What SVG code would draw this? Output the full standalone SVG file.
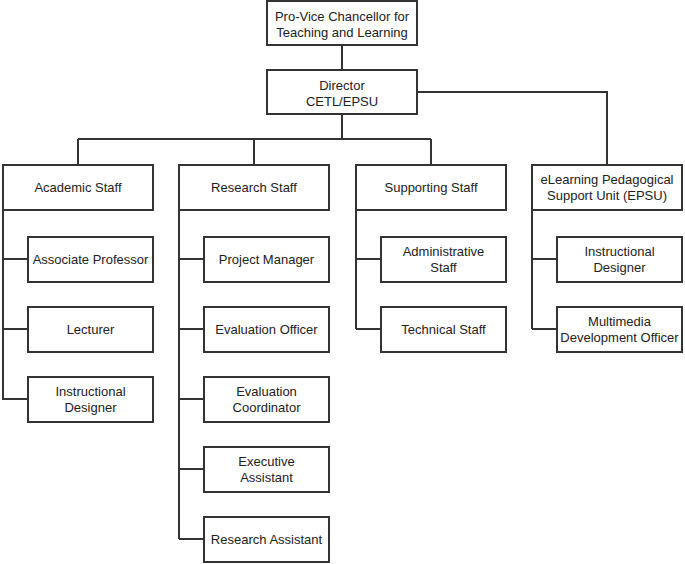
<svg xmlns="http://www.w3.org/2000/svg" width="685" height="564" viewBox="0 0 685 564">
<style>
rect{fill:#fff;stroke:#333;stroke-width:2}
text{font-family:"Liberation Sans",Arial,sans-serif;font-size:13px;fill:#222;text-anchor:middle}
.c path{fill:none;stroke:#333;stroke-width:2}
</style>
<rect x="0" y="0" width="685" height="564" style="stroke:none"/>
<g class="c" id="connectors">
<path d="M342 45V70M342 114V139M78 139H431M78 139V165M254 139V165M431 139V165M417 92H607V165"/>
<path d="M3 210V400M3 259H28M3 329H28M3 399H28"/>
<path d="M179 210V539M179 259H204M179 329H204M179 399H204M179 469H204M179 539H204"/>
<path d="M356 210V329M356 259H381M356 329H381"/>
<path d="M532 210V329M532 259H557M532 329H557"/>
</g>
<g id="pvc"><rect x="267" y="1" width="150" height="44"/><text x="342" y="21">Pro-Vice Chancellor for</text><text x="342" y="37">Teaching and Learning</text></g>
<g id="director"><rect x="267" y="70" width="150" height="44"/><text x="342" y="90">Director</text><text x="342" y="106">CETL/EPSU</text></g>
<g id="academic"><rect x="3" y="165" width="150" height="45"/><text x="78" y="192">Academic Staff</text></g>
<g id="research"><rect x="179" y="165" width="150" height="45"/><text x="254" y="192">Research Staff</text></g>
<g id="supporting"><rect x="356" y="165" width="150" height="45"/><text x="431" y="192">Supporting Staff</text></g>
<g id="epsu"><rect x="532" y="165" width="150" height="45"/><text x="607" y="184">eLearning Pedagogical</text><text x="607" y="200">Support Unit (EPSU)</text></g>
<g id="assocprof"><rect x="28" y="237" width="125" height="45"/><text x="90.5" y="264">Associate Professor</text></g>
<g id="lecturer"><rect x="28" y="307" width="125" height="45"/><text x="90.5" y="334">Lecturer</text></g>
<g id="instr1"><rect x="28" y="377" width="125" height="45"/><text x="90.5" y="396">Instructional</text><text x="90.5" y="412">Designer</text></g>
<g id="projmgr"><rect x="204" y="237" width="125" height="45"/><text x="266.5" y="264">Project Manager</text></g>
<g id="evalofficer"><rect x="204" y="307" width="125" height="45"/><text x="266.5" y="334">Evaluation Officer</text></g>
<g id="evalcoord"><rect x="204" y="377" width="125" height="45"/><text x="266.5" y="396">Evaluation</text><text x="266.5" y="412">Coordinator</text></g>
<g id="execasst"><rect x="204" y="447" width="125" height="45"/><text x="266.5" y="466">Executive</text><text x="266.5" y="482">Assistant</text></g>
<g id="resasst"><rect x="204" y="517" width="125" height="45"/><text x="266.5" y="544">Research Assistant</text></g>
<g id="admin"><rect x="381" y="237" width="125" height="45"/><text x="443.5" y="256">Administrative</text><text x="443.5" y="272">Staff</text></g>
<g id="technical"><rect x="381" y="307" width="125" height="45"/><text x="443.5" y="334">Technical Staff</text></g>
<g id="instr2"><rect x="557" y="237" width="125" height="45"/><text x="619.5" y="256">Instructional</text><text x="619.5" y="272">Designer</text></g>
<g id="multimedia"><rect x="557" y="307" width="125" height="45"/><text x="619.5" y="326">Multimedia</text><text x="619.5" y="342">Development Officer</text></g>
</svg>
